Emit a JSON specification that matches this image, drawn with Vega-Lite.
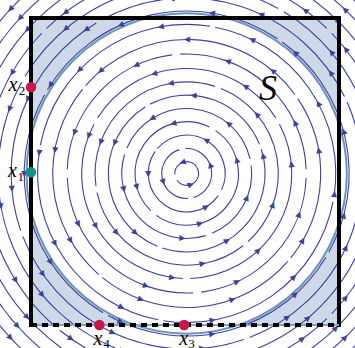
{
  "$schema": "https://vega.github.io/schema/vega-lite/v6.json",
  "width": 355,
  "height": 348,
  "padding": 0,
  "autosize": {"type": "none"},
  "background": "white",
  "config": {"view": {"stroke": null}},
  "datasets": {
    "box": [{"x": -1, "x2": 1, "y": -1, "y2": 1}],
    "region": [{"cx": 0.011, "cy": -0.013, "r": 1.04}],
    "rings": [
      {"r": 0.077, "a0": 215, "a1": 545},
      {"r": 0.162, "a0": 107, "a1": 273}, {"r": 0.162, "a0": 287, "a1": 453},
      {"r": 0.25, "a0": 145, "a1": 325}, {"r": 0.25, "a0": 335, "a1": 500},
      {"r": 0.336, "a0": 64, "a1": 226}, {"r": 0.336, "a0": 234, "a1": 416},
      {"r": 0.422, "a0": 13, "a1": 157}, {"r": 0.422, "a0": 163, "a1": 287}, {"r": 0.422, "a0": 293, "a1": 367},
      {"r": 0.509, "a0": 22, "a1": 118}, {"r": 0.509, "a0": 122, "a1": 248}, {"r": 0.509, "a0": 252, "a1": 378},
      {"r": 0.595, "a0": 72, "a1": 188}, {"r": 0.595, "a0": 192, "a1": 308}, {"r": 0.595, "a0": 312, "a1": 428},
      {"r": 0.682, "a0": 32, "a1": 148}, {"r": 0.682, "a0": 152, "a1": 268}, {"r": 0.682, "a0": 272, "a1": 388},
      {"r": 0.776, "a0": 2, "a1": 93}, {"r": 0.776, "a0": 97, "a1": 178}, {"r": 0.776, "a0": 182, "a1": 273}, {"r": 0.776, "a0": 277, "a1": 358},
      {"r": 0.87, "a0": 36, "a1": 139}, {"r": 0.87, "a0": 141, "a1": 229}, {"r": 0.87, "a0": 231, "a1": 319}, {"r": 0.87, "a0": 321, "a1": 394},
      {"r": 0.968, "a0": 81, "a1": 169}, {"r": 0.968, "a0": 171, "a1": 259}, {"r": 0.968, "a0": 261, "a1": 349}, {"r": 0.968, "a0": 351, "a1": 439},
      {"r": 1.055, "a0": 56, "a1": 149}, {"r": 1.055, "a0": 151, "a1": 239}, {"r": 1.055, "a0": 241, "a1": 329}, {"r": 1.055, "a0": 331, "a1": 414},
      {"r": 1.14, "a0": 26, "a1": 119}, {"r": 1.14, "a0": 121, "a1": 199}, {"r": 1.14, "a0": 201, "a1": 289}, {"r": 1.14, "a0": 291, "a1": 384},
      {"r": 1.225, "a0": 61, "a1": 149}, {"r": 1.225, "a0": 151, "a1": 249}, {"r": 1.225, "a0": 251, "a1": 339}, {"r": 1.225, "a0": 341, "a1": 419},
      {"r": 1.31, "a0": 46, "a1": 134}, {"r": 1.31, "a0": 136, "a1": 229}, {"r": 1.31, "a0": 231, "a1": 314}, {"r": 1.31, "a0": 316, "a1": 404},
      {"r": 1.395, "a0": 0, "a1": 360}, {"r": 1.48, "a0": 0, "a1": 360}, {"r": 1.565, "a0": 0, "a1": 360}
    ],
    "arrows": [
      {"r": 0.077, "t": 110}, {"r": 0.077, "t": 290},
      {"r": 0.162, "t": 20}, {"r": 0.162, "t": 200},
      {"r": 0.25, "t": 60}, {"r": 0.25, "t": 180}, {"r": 0.25, "t": 300},
      {"r": 0.336, "t": 15}, {"r": 0.336, "t": 105}, {"r": 0.336, "t": 195}, {"r": 0.336, "t": 285},
      {"r": 0.422, "t": 50}, {"r": 0.422, "t": 122}, {"r": 0.422, "t": 194}, {"r": 0.422, "t": 266}, {"r": 0.422, "t": 338},
      {"r": 0.509, "t": 13}, {"r": 0.509, "t": 85}, {"r": 0.509, "t": 157}, {"r": 0.509, "t": 229}, {"r": 0.509, "t": 301},
      {"r": 0.595, "t": 40}, {"r": 0.595, "t": 100}, {"r": 0.595, "t": 160}, {"r": 0.595, "t": 220}, {"r": 0.595, "t": 280}, {"r": 0.595, "t": 340},
      {"r": 0.682, "t": 5}, {"r": 0.682, "t": 56}, {"r": 0.682, "t": 108}, {"r": 0.682, "t": 159}, {"r": 0.682, "t": 210}, {"r": 0.682, "t": 262}, {"r": 0.682, "t": 313},
      {"r": 0.776, "t": 25}, {"r": 0.776, "t": 70}, {"r": 0.776, "t": 115}, {"r": 0.776, "t": 160}, {"r": 0.776, "t": 205}, {"r": 0.776, "t": 250}, {"r": 0.776, "t": 295}, {"r": 0.776, "t": 340},
      {"r": 0.87, "t": 10}, {"r": 0.87, "t": 50}, {"r": 0.87, "t": 90}, {"r": 0.87, "t": 130}, {"r": 0.87, "t": 170}, {"r": 0.87, "t": 210}, {"r": 0.87, "t": 250}, {"r": 0.87, "t": 290}, {"r": 0.87, "t": 330},
      {"r": 0.968, "t": 28}, {"r": 0.968, "t": 64}, {"r": 0.968, "t": 100}, {"r": 0.968, "t": 136}, {"r": 0.968, "t": 172}, {"r": 0.968, "t": 208}, {"r": 0.968, "t": 244}, {"r": 0.968, "t": 280}, {"r": 0.968, "t": 316}, {"r": 0.968, "t": 352},
      {"r": 1.055, "t": 15}, {"r": 1.055, "t": 48}, {"r": 1.055, "t": 81}, {"r": 1.055, "t": 114}, {"r": 1.055, "t": 147}, {"r": 1.055, "t": 180}, {"r": 1.055, "t": 213}, {"r": 1.055, "t": 246}, {"r": 1.055, "t": 279}, {"r": 1.055, "t": 312}, {"r": 1.055, "t": 345},
      {"r": 1.14, "t": 5}, {"r": 1.14, "t": 35}, {"r": 1.14, "t": 65}, {"r": 1.14, "t": 95}, {"r": 1.14, "t": 125}, {"r": 1.14, "t": 155}, {"r": 1.14, "t": 185}, {"r": 1.14, "t": 215}, {"r": 1.14, "t": 245}, {"r": 1.14, "t": 275}, {"r": 1.14, "t": 305}, {"r": 1.14, "t": 335},
      {"r": 1.225, "t": 10}, {"r": 1.225, "t": 40}, {"r": 1.225, "t": 70}, {"r": 1.225, "t": 100}, {"r": 1.225, "t": 130}, {"r": 1.225, "t": 160}, {"r": 1.225, "t": 190}, {"r": 1.225, "t": 220}, {"r": 1.225, "t": 250}, {"r": 1.225, "t": 280}, {"r": 1.225, "t": 310}, {"r": 1.225, "t": 340},
      {"r": 1.31, "t": 38}, {"r": 1.31, "t": 54}, {"r": 1.31, "t": 127}, {"r": 1.31, "t": 150}, {"r": 1.31, "t": 212}, {"r": 1.31, "t": 235}, {"r": 1.31, "t": 305}, {"r": 1.31, "t": 322},
      {"r": 1.395, "t": 46}, {"r": 1.395, "t": 138}, {"r": 1.395, "t": 222}, {"r": 1.395, "t": 314},
      {"r": 1.48, "t": 46}, {"r": 1.48, "t": 137}, {"r": 1.48, "t": 222}, {"r": 1.48, "t": 314},
      {"r": 1.565, "t": 137}, {"r": 1.565, "t": 223}
    ],
    "sides": [
      {"x": -1, "y": -1, "o": 0}, {"x": -1, "y": 1, "o": 1}, {"x": 1, "y": 1, "o": 2}, {"x": 1, "y": -1, "o": 3}
    ],
    "bottom": [{"x": -1, "x2": 1, "y": -1}],
    "pts": [
      {"x": -1, "y": 0.549, "name": "x2", "kind": "a"},
      {"x": -1, "y": -0.005, "name": "x1", "kind": "b"},
      {"x": -0.556, "y": -1, "name": "x4", "kind": "a"},
      {"x": -0.006, "y": -1, "name": "x3", "kind": "a"}
    ],
    "labels": [
      {"x": -1.117, "y": 0.526, "txt": "x"},
      {"x": -1.12, "y": -0.034, "txt": "x"},
      {"x": -0.566, "y": -1.13, "txt": "x"},
      {"x": -0.008, "y": -1.13, "txt": "x"}
    ],
    "subs": [
      {"x": -1.058, "y": 0.5, "txt": "2"},
      {"x": -1.066, "y": -0.06, "txt": "1"},
      {"x": -0.51, "y": -1.152, "txt": "4"},
      {"x": 0.043, "y": -1.152, "txt": "3"}
    ],
    "setname": [{"x": 0.539, "y": 0.537, "txt": "S"}]
  },
  "layer": [
    {
      "data": {"name": "box"},
      "mark": {"type": "rect", "fill": "#cdd8e8"},
      "encoding": {
        "x": {"field": "x", "type": "quantitative", "axis": null, "scale": {"domain": [-1.2013, 1.1039], "nice": false, "zero": false}},
        "x2": {"field": "x2"},
        "y": {"field": "y", "type": "quantitative", "axis": null, "scale": {"domain": [-1.1498, 1.1173], "nice": false, "zero": false}},
        "y2": {"field": "y2"}
      }
    },
    {
      "data": {"name": "region"},
      "mark": {"type": "arc", "fill": "white", "stroke": null},
      "encoding": {
        "x": {"field": "cx", "type": "quantitative", "axis": null},
        "y": {"field": "cy", "type": "quantitative", "axis": null},
        "theta": {"datum": 0, "type": "quantitative", "scale": {"domain": [0, 360], "range": [1.5707963, -4.712389]}},
        "theta2": {"datum": 360},
        "radius": {"field": "r", "type": "quantitative", "scale": {"type": "linear", "domain": [0, 1], "range": [0, 154], "zero": true}}
      }
    },
    {
      "data": {"name": "region"},
      "mark": {"type": "arc", "filled": false, "fill": null, "stroke": "#6a93bd", "strokeWidth": 2},
      "encoding": {
        "x": {"field": "cx", "type": "quantitative", "axis": null},
        "y": {"field": "cy", "type": "quantitative", "axis": null},
        "theta": {"datum": 0, "type": "quantitative"},
        "theta2": {"datum": 360},
        "radius": {"field": "r", "type": "quantitative", "scale": {"type": "linear", "domain": [0, 1], "range": [0, 154], "zero": true}},
        "radius2": {"field": "r"}
      }
    },
    {
      "data": {"name": "rings"},
      "mark": {"type": "arc", "filled": false, "fill": null, "stroke": "#3f3fa0", "strokeWidth": 1.1},
      "encoding": {
        "x": {"datum": 0.011, "type": "quantitative", "axis": null},
        "y": {"datum": -0.013, "type": "quantitative", "axis": null},
        "theta": {"field": "a0", "type": "quantitative", "stack": null},
        "theta2": {"field": "a1"},
        "radius": {"field": "r", "type": "quantitative", "scale": {"type": "linear", "domain": [0, 1], "range": [0, 154], "zero": true}},
        "radius2": {"field": "r"}
      }
    },
    {
      "data": {"name": "arrows"},
      "mark": {"type": "text", "text": "▲", "font": "DejaVu Sans", "fontSize": 8, "color": "#3f3fa0", "align": "center", "baseline": "middle"},
      "encoding": {
        "x": {"datum": 0.011, "type": "quantitative", "axis": null},
        "y": {"datum": -0.013, "type": "quantitative", "axis": null},
        "theta": {"field": "t", "type": "quantitative", "stack": null},
        "radius": {"field": "r", "type": "quantitative", "scale": {"type": "linear", "domain": [0, 1], "range": [0, 154], "zero": true}},
        "angle": {"field": "t", "type": "quantitative", "scale": {"domain": [0, 360], "range": [360, 0]}}
      }
    },
    {
      "data": {"name": "sides"},
      "mark": {"type": "line", "color": "black", "strokeWidth": 4, "strokeJoin": "miter", "strokeCap": "square"},
      "encoding": {
        "x": {"field": "x", "type": "quantitative", "axis": null},
        "y": {"field": "y", "type": "quantitative", "axis": null},
        "order": {"field": "o"}
      }
    },
    {
      "data": {"name": "bottom"},
      "mark": {"type": "rule", "color": "#7fa3c8", "strokeWidth": 2},
      "encoding": {
        "x": {"field": "x", "type": "quantitative", "axis": null},
        "x2": {"field": "x2"},
        "y": {"field": "y", "type": "quantitative", "axis": null}
      }
    },
    {
      "data": {"name": "bottom"},
      "mark": {"type": "rule", "color": "black", "strokeWidth": 4, "strokeDash": [6, 5]},
      "encoding": {
        "x": {"field": "x", "type": "quantitative", "axis": null},
        "x2": {"field": "x2"},
        "y": {"field": "y", "type": "quantitative", "axis": null}
      }
    },
    {
      "data": {"name": "pts"},
      "mark": {"type": "circle", "size": 110, "opacity": 1},
      "encoding": {
        "x": {"field": "x", "type": "quantitative", "axis": null},
        "y": {"field": "y", "type": "quantitative", "axis": null},
        "color": {"field": "kind", "type": "nominal", "legend": null, "scale": {"domain": ["a", "b"], "range": ["#c9164c", "#14918b"]}}
      }
    },
    {
      "data": {"name": "labels"},
      "mark": {"type": "text", "font": "Liberation Serif", "fontStyle": "italic", "fontSize": 20, "color": "black", "align": "center", "baseline": "alphabetic"},
      "encoding": {
        "x": {"field": "x", "type": "quantitative", "axis": null},
        "y": {"field": "y", "type": "quantitative", "axis": null},
        "text": {"field": "txt"}
      }
    },
    {
      "data": {"name": "subs"},
      "mark": {"type": "text", "font": "Liberation Serif", "fontSize": 13, "color": "black", "align": "center", "baseline": "alphabetic"},
      "encoding": {
        "x": {"field": "x", "type": "quantitative", "axis": null},
        "y": {"field": "y", "type": "quantitative", "axis": null},
        "text": {"field": "txt"}
      }
    },
    {
      "data": {"name": "setname"},
      "mark": {"type": "text", "font": "Liberation Serif", "fontStyle": "italic", "fontSize": 36, "color": "black", "align": "center", "baseline": "middle"},
      "encoding": {
        "x": {"field": "x", "type": "quantitative", "axis": null},
        "y": {"field": "y", "type": "quantitative", "axis": null},
        "text": {"field": "txt"}
      }
    }
  ]
}
